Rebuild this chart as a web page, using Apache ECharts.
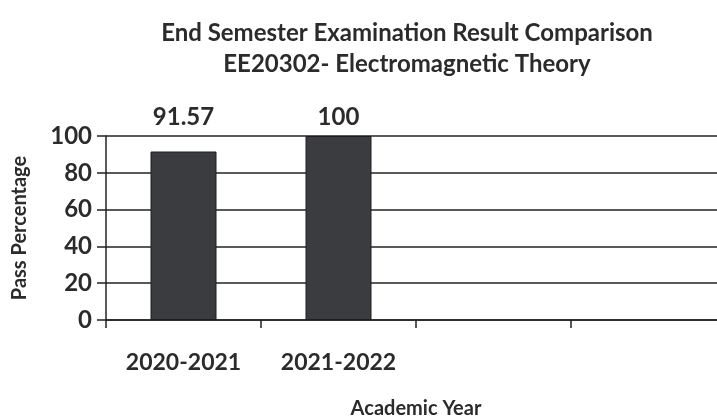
<!DOCTYPE html>
<html>
<head>
<meta charset="utf-8">
<script src="https://cdn.jsdelivr.net/npm/echarts@6/dist/echarts.min.js"></script>
<style>
  html, body { margin: 0; padding: 0; background: #fff; }
  #chart { width: 717px; height: 416px; }
</style>
</head>
<body>
<div id="chart"></div>
<script>
const years = ['2020-2021', '2021-2022', '', ''];
const passPct = [91.57, 100, null, null];
const yTicks = [0, 20, 40, 60, 80, 100];

const font = 'Lato';
const ink = '#2b2b2b';

const chart = echarts.init(document.getElementById('chart'));
chart.setOption({
  backgroundColor: '#fff',
  animation: false,
  title: {
    text: 'End Semester Examination Result Comparison\nEE20302- Electromagnetic Theory',
    left: 402,
    top: 13,
    textAlign: 'center',
    textStyle: { fontFamily: font, fontWeight: 'bold', fontSize: 24, color: ink, lineHeight: 31 }
  },
  grid: { left: 106, right: -9, top: 136, bottom: 96, outerBoundsMode: 'none', containLabel: false },
  xAxis: {
    type: 'category',
    data: years,
    name: 'Academic Year',
    nameLocation: 'middle',
    nameGap: 79,
    nameTextStyle: { fontFamily: font, fontWeight: 'bold', fontSize: 20, color: ink },
    axisLine: { lineStyle: { color: '#222', width: 1.5 } },
    axisTick: { show: true, length: 8, lineStyle: { color: '#222', width: 1.5 } },
    axisLabel: { margin: 31, fontFamily: font, fontWeight: 'bold', fontSize: 23, color: ink }
  },
  yAxis: {
    type: 'value',
    min: 0,
    max: yTicks[yTicks.length - 1],
    interval: yTicks[1] - yTicks[0],
    name: 'Pass Percentage',
    nameLocation: 'middle',
    nameGap: 76,
    nameRotate: 90,
    nameTextStyle: { fontFamily: font, fontWeight: 'bold', fontSize: 20, color: ink },
    axisLine: { show: true, lineStyle: { color: '#222', width: 1.5 } },
    axisTick: { show: true, length: 9, lineStyle: { color: '#222', width: 1.5 } },
    axisLabel: { margin: 14, fontFamily: font, fontWeight: 'bold', fontSize: 24, color: ink },
    splitLine: { lineStyle: { color: '#222', width: 1.5 } }
  },
  series: [{
    type: 'bar',
    barWidth: 66,
    data: passPct.map((v, i) => ({ value: v, label: { distance: i === 0 ? 22 : 7 } })),
    itemStyle: { color: '#3a3c40', borderColor: '#1e1e1e', borderWidth: 1 },
    label: {
      show: true,
      position: 'top',
      fontFamily: font,
      fontWeight: 'bold',
      fontSize: 24,
      color: ink
    }
  }]
});
window.addEventListener('resize', chart.resize);
</script>
</body>
</html>
